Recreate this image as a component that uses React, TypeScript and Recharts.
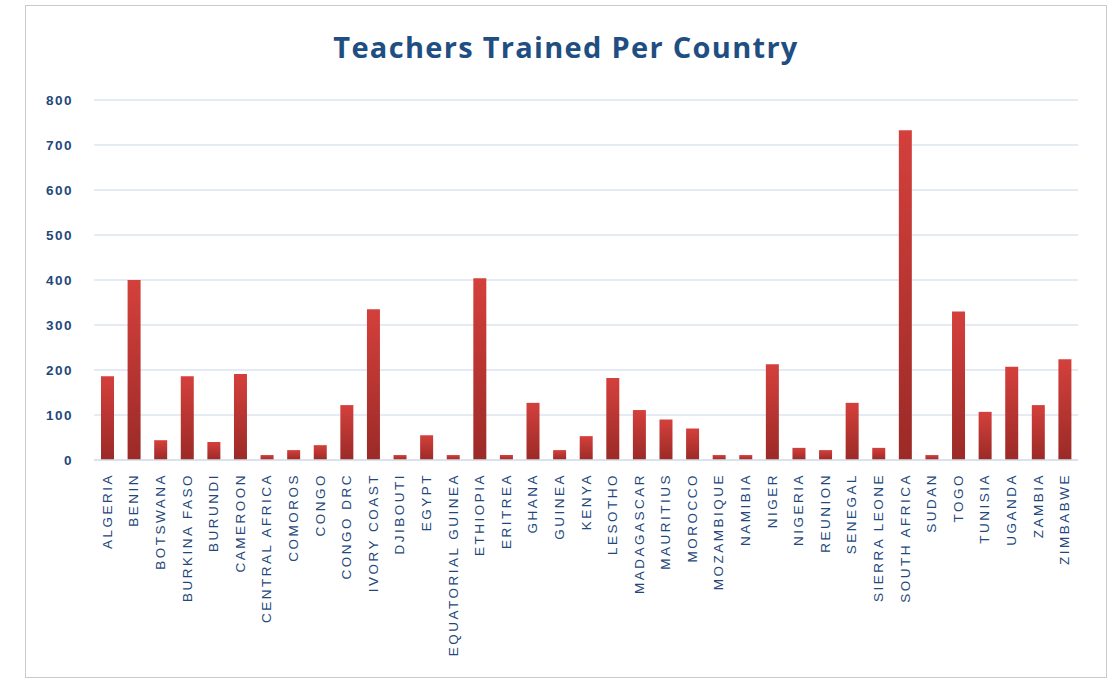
import React from "react";
import { BarChart, Bar, XAxis, YAxis, CartesianGrid } from "recharts";

const countries = [
  "ALGERIA", "BENIN", "BOTSWANA", "BURKINA FASO", "BURUNDI", "CAMEROON",
  "CENTRAL AFRICA", "COMOROS", "CONGO", "CONGO DRC", "IVORY COAST", "DJIBOUTI",
  "EGYPT", "EQUATORIAL GUINEA", "ETHIOPIA", "ERITREA", "GHANA", "GUINEA",
  "KENYA", "LESOTHO", "MADAGASCAR", "MAURITIUS", "MOROCCO", "MOZAMBIQUE",
  "NAMIBIA", "NIGER", "NIGERIA", "REUNION", "SENEGAL", "SIERRA LEONE",
  "SOUTH AFRICA", "SUDAN", "TOGO", "TUNISIA", "UGANDA", "ZAMBIA", "ZIMBABWE",
];

const teachers = [
  186, 400, 44, 186, 40, 191,
  11, 22, 33, 122, 335, 11,
  55, 11, 404, 11, 127, 22,
  53, 182, 111, 90, 70, 11,
  11, 213, 27, 22, 127, 27,
  733, 11, 330, 107, 207, 122, 224,
];

const yTicks = [0, 100, 200, 300, 400, 500, 600, 700, 800];

const title = "Teachers Trained Per Country";

const data = countries.map((c, i) => ({ country: c, value: teachers[i] }));

const LABEL_COLOR = "#24477a";

const XTick = (props: any) => {
  const { x, y, payload } = props;
  return (
    <text
      x={x}
      y={y}
      transform={`rotate(-90, ${x}, ${y})`}
      textAnchor="end"
      dominantBaseline="central"
      fill={LABEL_COLOR}
      fontSize={13.5}
      letterSpacing={2.5}
      fontFamily="'Liberation Sans', Arial, sans-serif"
    >
      {payload.value}
    </text>
  );
};

export default function App() {
  return (
    <div style={{ position: "absolute", left: 0, top: 0, width: 1109, height: 680, background: "#fff" }}>
      <div
        style={{
          position: "absolute",
          left: 25,
          top: 5,
          width: 1080,
          height: 671,
          border: "1px solid #c6cbd2",
          boxSizing: "content-box",
        }}
      />
      <div
        style={{
          position: "absolute",
          left: 25,
          top: 27,
          width: 1082,
          textAlign: "center",
          fontFamily: "'Open Sans', sans-serif",
          fontWeight: 700,
          fontSize: 29,
          color: "#1f4e82",
          letterSpacing: 1.3,
        }}
      >
        {title}
      </div>
      <div style={{ position: "absolute", left: 0, top: 0 }}>
        <BarChart
          width={1109}
          height={680}
          data={data}
          margin={{ top: 100, right: 31, bottom: 0, left: 34 }}
          barCategoryGap={0}
        >
          <defs>
            <linearGradient id="barGrad" x1="0" y1="0" x2="0" y2="1">
              <stop offset="0%" stopColor="#d4403c" />
              <stop offset="100%" stopColor="#9b2a27" />
            </linearGradient>
          </defs>
          <CartesianGrid vertical={false} stroke="#dbe5f1" strokeWidth={1.5} />
          <XAxis
            dataKey="country"
            interval={0}
            tickLine={false}
            axisLine={{ stroke: "#d5e0ee", strokeWidth: 1.5 }}
            tick={<XTick />}
            tickSize={0}
            tickMargin={13}
            height={220}
          />
          <YAxis
            domain={[0, 800]}
            ticks={yTicks}
            interval={0}
            width={60}
            tickLine={false}
            axisLine={false}
            tickSize={0}
            tickMargin={21}
            tick={{
              fill: LABEL_COLOR,
              fontSize: 13.5,
              fontWeight: 600,
              letterSpacing: 1.5,
              fontFamily: "'Liberation Sans', Arial, sans-serif",
            }}
          />
          <Bar dataKey="value" fill="url(#barGrad)" barSize={13} isAnimationActive={false} />
        </BarChart>
      </div>
    </div>
  );
}
